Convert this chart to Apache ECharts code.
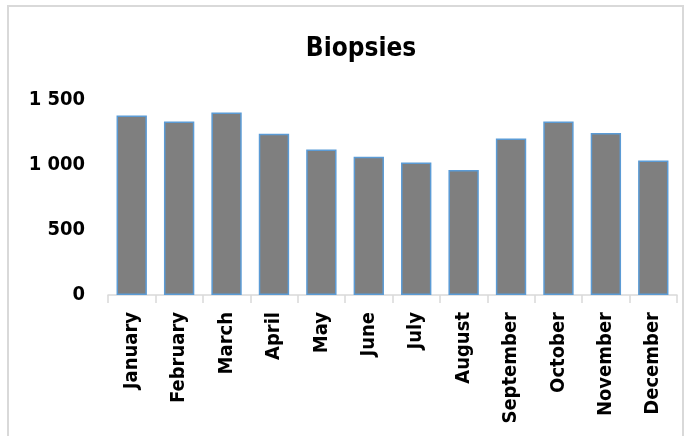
<!DOCTYPE html>
<html>
<head>
<meta charset="utf-8">
<title>Biopsies</title>
<script src="https://cdn.jsdelivr.net/npm/echarts@6/dist/echarts.min.js"></script>
<style>
  html, body { margin: 0; padding: 0; background: #ffffff; }
  #chart { width: 695px; height: 436px; }
</style>
</head>
<body>
<div id="chart"></div>
<script>
// Monthly biopsy counts
const months = ['January', 'February', 'March', 'April', 'May', 'June',
                'July', 'August', 'September', 'October', 'November', 'December'];
const biopsies = [1380, 1334, 1403, 1240, 1120, 1064, 1020, 962, 1204, 1334, 1247, 1035];
const yTicks = [0, 500, 1000, 1500];

const FONT = '"DejaVu Sans Condensed", "Liberation Sans Narrow", sans-serif';

// "1 500" style thousands separator
function fmt(v) {
  return String(v).replace(/\B(?=(\d{3})+(?!\d))/g, ' ');
}

const chart = echarts.init(document.getElementById('chart'), null, { renderer: 'canvas' });

chart.setOption({
  backgroundColor: '#ffffff',
  animation: false,
  graphic: [{
    type: 'rect',
    shape: { x: 8, y: 6, width: 675, height: 440 },
    style: { fill: 'none', stroke: '#d9d9d9', lineWidth: 2 },
    silent: true,
    z: -1
  }],
  title: {
    text: 'Biopsies',
    left: 356,
    top: 31,
    textAlign: 'center',
    textStyle: {
      fontFamily: FONT,
      fontWeight: 'bold',
      fontSize: 26,
      color: '#000000'
    }
  },
  grid: {
    left: 108,
    right: 18,
    top: 100,
    bottom: 141,
    containLabel: false
  },
  xAxis: {
    type: 'category',
    data: months,
    boundaryGap: true,
    axisLine: { show: true, lineStyle: { color: '#d9d9d9', width: 1.5 } },
    axisTick: { show: true, length: 8, alignWithLabel: false, lineStyle: { color: '#d9d9d9', width: 1.5 } },
    axisLabel: {
      rotate: 90,
      interval: 0,
      margin: 17,
      fontFamily: FONT,
      fontWeight: 'bold',
      fontSize: 20,
      color: '#000000'
    },
    splitLine: { show: false }
  },
  yAxis: {
    type: 'value',
    min: yTicks[0],
    max: yTicks[yTicks.length - 1],
    interval: yTicks[1] - yTicks[0],
    axisLine: { show: false },
    axisTick: { show: false },
    splitLine: { show: false },
    axisLabel: {
      margin: 23,
      fontFamily: FONT,
      fontWeight: 'bold',
      fontSize: 20,
      color: '#000000',
      formatter: fmt
    }
  },
  series: [{
    type: 'bar',
    data: biopsies,
    barCategoryGap: '36%',
    itemStyle: {
      color: '#7f7f7f',
      borderColor: '#5b9bd5',
      borderWidth: 1.5
    }
  }]
});
</script>
</body>
</html>
